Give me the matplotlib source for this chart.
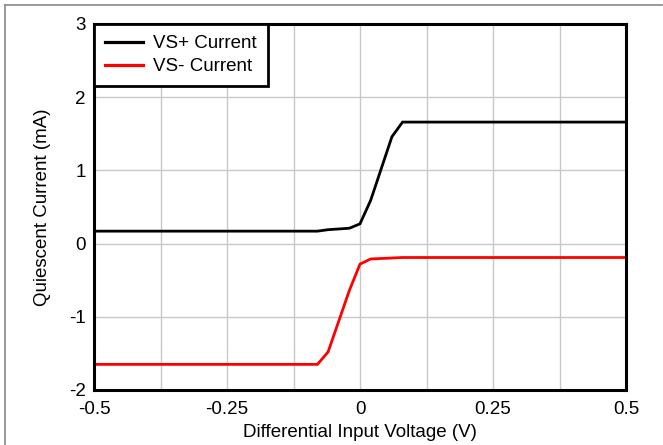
import matplotlib
matplotlib.use("Agg")
import matplotlib.pyplot as plt
from matplotlib.lines import Line2D

plt.rcParams['font.family'] = ['Liberation Sans', 'DejaVu Sans']
plt.rcParams['axes.unicode_minus'] = False

vplus_x = [-0.5, -0.08, -0.06, -0.02, 0.0, 0.02, 0.06, 0.08, 0.5]
vplus_y = [0.17, 0.17, 0.19, 0.21, 0.27, 0.59, 1.46, 1.66, 1.66]

vminus_x = [-0.5, -0.08, -0.06, -0.02, 0.0, 0.02, 0.08, 0.5]
vminus_y = [-1.65, -1.65, -1.48, -0.64, -0.28, -0.21, -0.19, -0.19]

xticks = [-0.5, -0.25, 0, 0.25, 0.5]
xtick_labels = ['-0.5', '-0.25', '0', '0.25', '0.5']
yticks = [-2, -1, 0, 1, 2, 3]

W, H = 663, 445
fig = plt.figure(figsize=(W/100, H/100), dpi=100)
ax = fig.add_axes([94/W, 1-390/H, (626-94)/W, (390-24)/H])

ax.plot(vplus_x, vplus_y, color='black', lw=2.0, label='VS+ Current', solid_joinstyle='miter')
ax.plot(vminus_x, vminus_y, color='#ff0000', lw=2.0, label='VS- Current', solid_joinstyle='miter')

ax.set_xlim(-0.5, 0.5)
ax.set_ylim(-2, 3)
ax.set_xticks(xticks)
ax.set_xticklabels(xtick_labels)
ax.set_xticks([-0.375, -0.125, 0.125, 0.375], minor=True)
ax.set_yticks(yticks)
ax.grid(True, which='both', color='#c8c8c8', lw=1.0)
ax.set_axisbelow(True)
ax.tick_params(which='both', length=0, labelsize=13.5)
ax.tick_params(axis='x', pad=8)
ax.tick_params(axis='y', pad=6)
for s in ax.spines.values():
    s.set_linewidth(2.2)
    s.set_color('black')

ax.set_xlabel('Differential Input Voltage (V)', fontsize=13.5, labelpad=4)
ax.set_ylabel('Quiescent Current (mA)', fontsize=13.5, labelpad=13)

leg = ax.legend(loc='upper left', fontsize=13.5, frameon=True, fancybox=False,
                borderaxespad=0, handlelength=2.0, handletextpad=0.55,
                borderpad=0.6, labelspacing=0.3)
leg.get_frame().set_edgecolor('black')
leg.get_frame().set_linewidth(2.0)
leg.get_frame().set_alpha(1)
for h in leg.get_lines():
    h.set_linewidth(2.3)

fig.add_artist(Line2D([5/W, 662/W], [1-5/H, 1-5/H], color='#888888', lw=1.2, transform=fig.transFigure))
fig.add_artist(Line2D([5/W, 5/W], [0, 1-5/H], color='#888888', lw=1.2, transform=fig.transFigure))

fig.savefig('out.png', dpi=100)
